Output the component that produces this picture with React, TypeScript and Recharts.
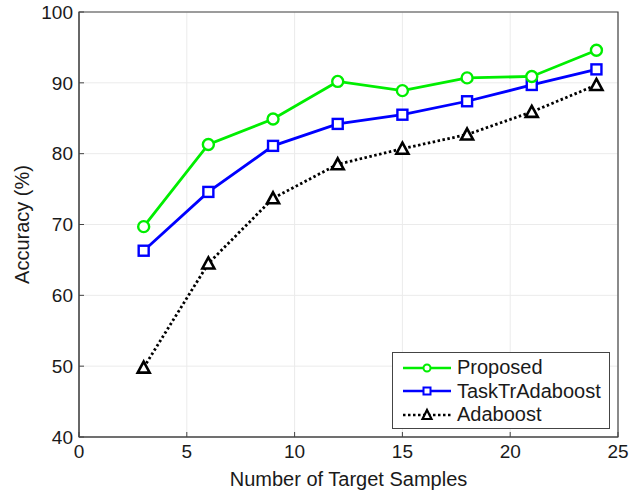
import { CartesianGrid, Line, LineChart, ReferenceArea, XAxis, YAxis } from "recharts";

const samples = [3, 6, 9, 12, 15, 18, 21, 24];
const proposed = [69.7, 81.3, 84.9, 90.2, 88.9, 90.7, 90.9, 94.6];
const taskTrAdaboost = [66.3, 74.6, 81.1, 84.2, 85.5, 87.4, 89.7, 91.9];
const adaboost = [49.8, 64.5, 73.7, 78.5, 80.7, 82.7, 85.9, 89.7];
const xTicks = [0, 5, 10, 15, 20, 25];
const yTicks = [40, 50, 60, 70, 80, 90, 100];

const data = samples.map((n, i) => ({
  n,
  proposed: proposed[i],
  task: taskTrAdaboost[i],
  ada: adaboost[i],
}));

const font = "'Liberation Sans', Arial, sans-serif";
const tick = { fill: "#1a1a1a", fontSize: 19, fontFamily: font };

function Circle({ cx, cy }: any) {
  return <circle cx={cx} cy={cy} r={5.5} fill="#fff" stroke="#00ee00" strokeWidth={2.4} />;
}
function Square({ cx, cy }: any) {
  return <rect x={cx - 5} y={cy - 5} width={10} height={10} fill="#fff" stroke="#0000ff" strokeWidth={2.4} />;
}
function Tri({ cx, cy }: any) {
  return <path d={`M${cx},${cy - 6}L${cx + 6},${cy + 5}L${cx - 6},${cy + 5}Z`} fill="#fff" stroke="#000" strokeWidth={2.6} />;
}

function LegendRow({ color, dash, marker, label }: { color: string; dash?: string; marker: string; label: string }) {
  return (
    <div style={{ display: "flex", alignItems: "center", height: 23.5 }}>
      <svg width={52} height={16} style={{ marginRight: 4 }}>
        <line x1={2} y1={8} x2={50} y2={8} stroke={color} strokeWidth={2.6} strokeDasharray={dash} />
        {marker === "c" && <circle cx={26} cy={8} r={3.5} fill="#fff" stroke={color} strokeWidth={2} />}
        {marker === "s" && <rect x={22.5} y={4.5} width={7} height={7} fill="#fff" stroke={color} strokeWidth={2} />}
        {marker === "t" && <path d="M26,3L30.5,12L21.5,12Z" fill="#fff" stroke={color} strokeWidth={2.2} />}
      </svg>
      <span>{label}</span>
    </div>
  );
}

export default function App() {
  return (
    <div style={{ position: "absolute", left: 0, top: 0, width: 639, height: 491, background: "#fff" }}>
      <LineChart width={639} height={491} data={data} margin={{ top: 12, right: 21, left: 0, bottom: 0 }}>
        <CartesianGrid stroke="#ebebeb" />
        <XAxis
          dataKey="n"
          type="number"
          domain={[0, 25]}
          ticks={xTicks}
          height={54}
          stroke="#444"
          tick={tick}
          tickSize={-5}
          tickMargin={13}
          label={{ value: "Number of Target Samples", position: "insideBottom", offset: 5, fill: "#1a1a1a", fontSize: 20, fontFamily: font }}
        />
        <YAxis
          domain={[40, 100]}
          ticks={yTicks}
          width={79}
          stroke="#444"
          tick={tick}
          tickSize={-5}
          tickMargin={11}
          label={{ value: "Accuracy (%)", angle: -90, position: "insideLeft", offset: 22, fill: "#1a1a1a", fontSize: 20, fontFamily: font, style: { textAnchor: "middle" } }}
        />
        <ReferenceArea x1={0} x2={25} y1={40} y2={100} fill="none" stroke="#444" strokeWidth={1.2} ifOverflow="visible" />
        <Line dataKey="ada" stroke="#000" strokeWidth={2.8} strokeDasharray="2.5 2.5" dot={<Tri />} isAnimationActive={false} />
        <Line dataKey="task" stroke="#0000ff" strokeWidth={2.8} dot={<Square />} isAnimationActive={false} />
        <Line dataKey="proposed" stroke="#00ee00" strokeWidth={2.8} dot={<Circle />} isAnimationActive={false} />
      </LineChart>
      <div
        style={{
          position: "absolute",
          left: 392,
          top: 352,
          width: 218,
          height: 77,
          border: "1px solid #444",
          background: "#fff",
          boxSizing: "border-box",
          padding: "3px 0 0 8px",
          fontFamily: font,
          fontSize: 20,
          color: "#1a1a1a",
        }}
      >
        <LegendRow color="#00ee00" marker="c" label="Proposed" />
        <LegendRow color="#0000ff" marker="s" label="TaskTrAdaboost" />
        <LegendRow color="#000" dash="2.5 2.5" marker="t" label="Adaboost" />
      </div>
    </div>
  );
}
